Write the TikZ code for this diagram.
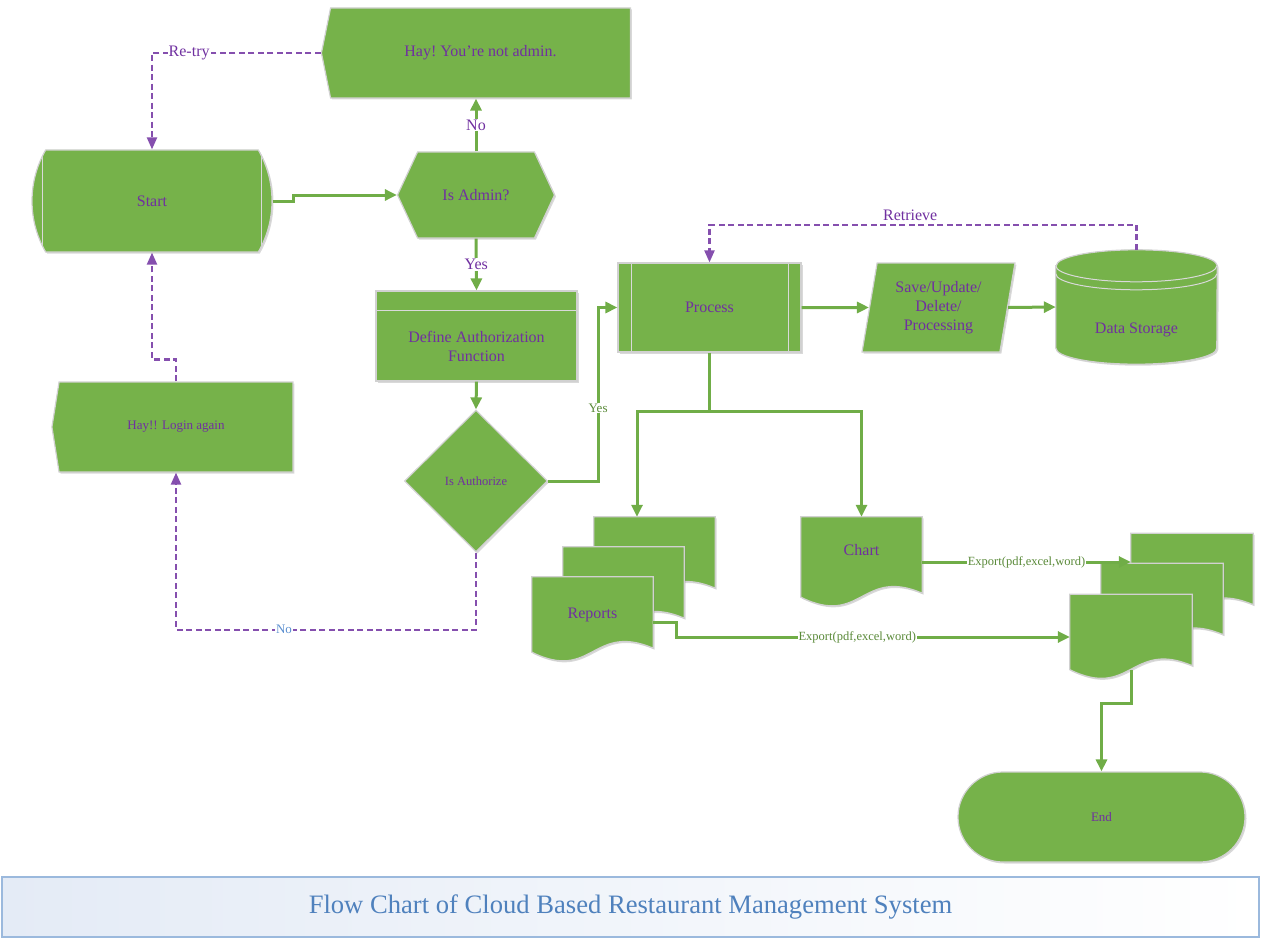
\documentclass[tikz,border=0pt]{standalone}
\usepackage{fontspec}
\setmainfont{Liberation Serif}
\usetikzlibrary{arrows.meta,shapes.geometric,shapes.symbols,shapes.misc,shadows,calc,backgrounds}
\definecolor{boxgreen}{HTML}{76B24A}
\definecolor{linegreen}{HTML}{70AD47}
\definecolor{txtpurple}{HTML}{7030A0}
\definecolor{titleblue}{HTML}{4F81BD}
\definecolor{titleline}{HTML}{9BB9DD}
\definecolor{titlefill}{HTML}{E4EBF6}
\definecolor{nolabel}{HTML}{5B8FD0}
\tikzset{
	box/.style 		= {fill = boxgreen, draw = black!18, line width = 1.2pt,
		text = txtpurple, inner sep = 0, align = center,
		font = \fontsize{16}{19}\selectfont,
		drop shadow = {opacity = 0.3, shadow xshift = 1.5pt, shadow yshift = -1.5pt}},
	innerline/.style = {draw = black!15, line width = 1pt},
	sidelines/.style = {path picture = {
		\draw[innerline] ([xshift = #1]path picture bounding box.north west) -- ([xshift = #1]path picture bounding box.south west);
		\draw[innerline] ([xshift = -#1]path picture bounding box.north east) -- ([xshift = -#1]path picture bounding box.south east);}},
	terminal/.style = {box, rounded rectangle, rounded rectangle arc length = 60, sidelines = 15pt},
	predef/.style 	= {box, rectangle, sidelines = 13pt},
	warn/.style 	= {box, signal, signal from = nowhere, signal to = west},
	decision/.style = {box, diamond},
	sheet/.style 	= {fill = boxgreen, draw = black!18, line width = 1.2pt,
		drop shadow = {opacity = 0.3, shadow xshift = 1.5pt, shadow yshift = -1.5pt}},
	doc/.style 		= {rectangle, inner sep = 0, text = txtpurple, minimum width = 121pt,
		font = \fontsize{16}{19}\selectfont},
	flow/.style 	= {draw = linegreen, line width = 3pt, -{Triangle[length = 12pt, width = 11pt]}},
	flowline/.style = {draw = linegreen, line width = 3pt},
	retry/.style 	= {draw = txtpurple!85, line width = 2.2pt, dash pattern = on 6pt off 3.5pt,
		-{Triangle[length = 12pt, width = 10pt]}},
	lbl/.style 		= {fill = white, inner sep = 1pt, text = txtpurple, font = \fontsize{16}{19}\selectfont},
	small lbl/.style = {lbl, font = \fontsize{13}{15}\selectfont},
	export/.style 	= {lbl, text = linegreen!80!black, font = \fontsize{12.5}{14}\selectfont},
}
% one sheet of a document, #2 #3 move it off the node
\newcommand{\docsheet}[3]{%
	\filldraw[sheet] ($(#1.north west)+(#2,#3)$) -- ($(#1.north east)+(#2,#3)$)
		-- ($(#1.south east)+(#2,#3+4)$)
		.. controls ($(#1.south)+(#2,#3+30)$) and ($(#1.south)+(#2,#3-30)$)
		.. ($(#1.south west)+(#2,#3)$) -- cycle;}
% drum for the storage, #2 = half width
\newcommand{\drum}[2]{%
	\filldraw[sheet] ($(#1.north west)+(0,-16)$) -- ($(#1.south west)+(0,16)$)
		arc[start angle = 180, end angle = 360, x radius = #2, y radius = 16]
		-- ($(#1.north east)+(0,-16)$)
		arc[start angle = 0, end angle = 180, x radius = #2, y radius = 16] -- cycle;
	\draw[innerline] ($(#1.north west)+(0,-16)$) arc[start angle = 180, end angle = 360, x radius = #2, y radius = 16];
	\draw[innerline] ($(#1.north west)+(0,-24)$) arc[start angle = 180, end angle = 360, x radius = #2, y radius = 16];}

\begin{document}
\begin{tikzpicture}[x = 1pt, y = 1pt]
\useasboundingbox (0,0) rectangle (1261,-939);

% login side
\node[terminal, minimum width = 240pt, minimum height = 102pt] (start) at (152,-201) {Start};
\node[warn, minimum width = 309pt, minimum height = 90pt, signal pointer angle = 157] (notadmin) at (480.5,-53) {Hay!\ You’re not admin.};
\node[box, signal, signal to = east and west, signal pointer angle = 130,
	minimum width = 157pt, minimum height = 86pt] (isadmin) at (476,-195) {Is Admin?};
\node[box, minimum width = 201pt, minimum height = 90pt,
	path picture = {\draw[innerline] ([yshift = -19pt]path picture bounding box.north west) -- ([yshift = -19pt]path picture bounding box.north east);},
	label = {[text = txtpurple, align = center, font = \fontsize{16}{19}\selectfont, yshift = -10pt]center:Define Authorization\\Function}]
	(def) at (476.5,-336) {};
\node[decision, minimum width = 143pt, minimum height = 142pt, font = \fontsize{12.5}{15}\selectfont] (isauth) at (476,-481) {Is Authorize};
\node[warn, minimum width = 241pt, minimum height = 90pt, signal pointer angle = 162,
	font = \fontsize{13}{15}\selectfont] (login) at (176,-427) {Hay!! Login again};

% process side
\node[predef, minimum width = 183pt, minimum height = 89pt] (proc) at (709.5,-307.5) {Process};
\node[box, trapezium, trapezium left angle = 78.6, trapezium right angle = 101.4, trapezium stretches = true,
	minimum width = 153pt, minimum height = 89pt] (save) at (938.5,-307.5) {Save/Update/\\Delete/\\Processing};
\node[rectangle, inner sep = 0, minimum width = 161pt, minimum height = 114pt,
	label = {[text = txtpurple, font = \fontsize{16}{19}\selectfont, yshift = -23pt]center:Data Storage}]
	(store) at (1136.5,-307) {};

% documents
\node[doc, minimum height = 75pt] (rep) at (592.5,-614.5) {Reports};
\node[doc, minimum height = 80pt, label = {[text = txtpurple, font = \fontsize{16}{19}\selectfont, yshift = 7pt]center:Chart}] (chart) at (861.5,-557) {};
\node[doc, minimum height = 75pt, minimum width = 122pt] (out) at (1131,-632) {};
\node[box, rounded rectangle, minimum width = 287pt, minimum height = 90pt,
	font = \fontsize{13}{15}\selectfont] (end) at (1101.5,-817) {End};
\begin{pgfonlayer}{background}
	\drum{store}{80.5}
	\docsheet{rep}{62}{60}
	\docsheet{rep}{31}{30}
	\docsheet{rep}{0}{0}
	\docsheet{chart}{0}{0}
	\docsheet{out}{61}{61}
	\docsheet{out}{31}{31}
	\docsheet{out}{0}{0}
\end{pgfonlayer}
\coordinate (outback) at ($(out.west)+(61,0)$);
\coordinate (chartout) at ($(chart.east)+(0,-5)$);
\coordinate (repout) at ($(rep.east)+(0,-8)$);

% title
\node[draw = titleline, line width = 1.5pt, left color = titlefill, right color = white,
	text = titleblue, font = \fontsize{26.6}{30}\selectfont,
	minimum width = 1257pt, minimum height = 60pt] (title) at (630.5,-907) {Flow Chart of Cloud Based Restaurant Management System};

% connectors
\draw[flow] (start.east) -- ++(21,0) |- (isadmin.west);
\draw[flow] (isadmin.north) -- node[lbl] {No} (notadmin.south -| isadmin.north);
\draw[retry] (notadmin.west) -| node[lbl, pos = 0.39] {Re-try} (start.north);
\draw[flow] (isadmin.south) -- node[lbl] {Yes} (def.north);
\draw[flow] (def.south) -- (isauth.north);
\draw[flow] (isauth.east) -- ++(50,0) |- node[small lbl, text = linegreen!80!black, pos = 0.21] {Yes} (proc.west);
\draw[retry] (isauth.south) -- ++(0,-77) -| node[small lbl, text = nolabel, pos = 0.32] {No} (login.south);
\draw[retry] (login.north) -- ++(0,22) -| (start.south);
\draw[flow] (proc.east) -- (save.west);
\draw[flow] (save.east) -- (store.west);
\draw[retry] (store.north) -- ++(0,25) -| node[lbl, fill = none, above, yshift = 2pt, pos = 0.265] {Retrieve} (proc.north);
\draw[flowline] (proc.south) -- ++(0,-59) coordinate (split);
\draw[flow] (split) -| ($(rep.north)+(44.5,60)$);
\draw[flow] (split) -| (chart.north);
\draw[flow] (chartout) -- node[export] {Export(pdf,excel,word)} (chartout -| outback);
\draw[flow] (repout) -- ++(23,0) |- node[export, pos = 0.73] {Export(pdf,excel,word)} ($(out.west)+(0,-5)$);
\draw[flow] (out.south) -- ++(0,-34) -| (end.north);
\end{tikzpicture}
\end{document}
